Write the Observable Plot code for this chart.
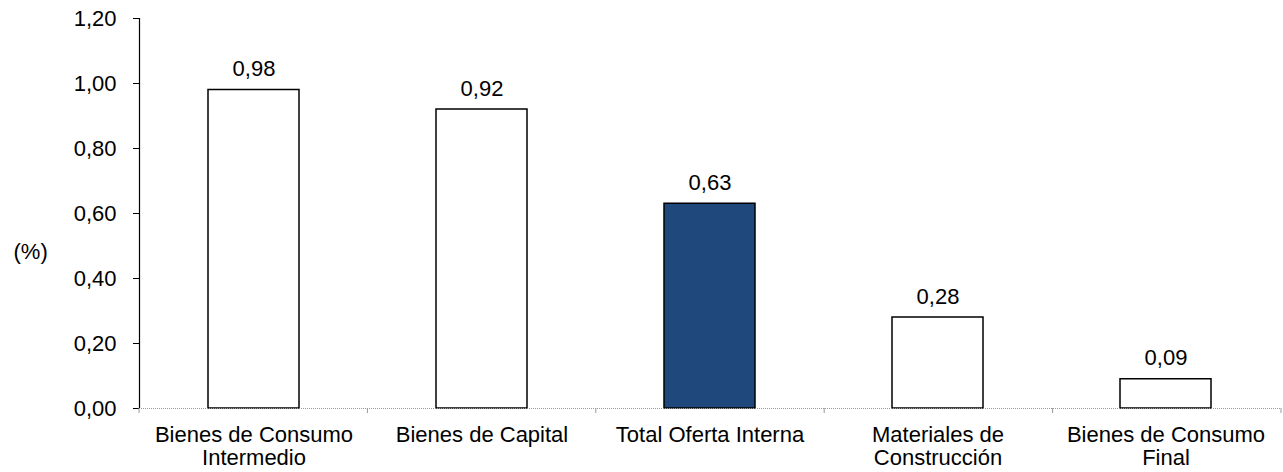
<!DOCTYPE html>
<html>
<head>
<meta charset="utf-8">
<script src="https://cdn.jsdelivr.net/npm/d3@7"></script>
<script src="https://cdn.jsdelivr.net/npm/@observablehq/plot@0.6"></script>
<style>
  html, body { margin: 0; padding: 0; background: #fff; }
  #chart svg { display: block; }
</style>
</head>
<body>
<div id="chart"></div>
<script>
const categories = [
  "Bienes de Consumo\nIntermedio",
  "Bienes de Capital",
  "Total Oferta Interna",
  "Materiales de\nConstrucción",
  "Bienes de Consumo\nFinal"
];
const values = [0.98, 0.92, 0.63, 0.28, 0.09];
const highlight = "Total Oferta Interna";
const yTicks = [0, 0.2, 0.4, 0.6, 0.8, 1.0, 1.2];
const yLabel = "(%)";

const data = categories.map((c, i) => ({cat: c, value: values[i]}));
const fmt = v => v.toFixed(2).replace(".", ",");
const FONT = "'Liberation Sans', Arial, Helvetica, sans-serif";
const FS = 22;

const axisDecor = (index, scales, values, dim) => {
  const g = d3.create("svg:g");
  const x0 = dim.marginLeft, x1 = dim.width - dim.marginRight;
  const yb = scales.y(0), yt = scales.y(1.2);
  // y axis line
  g.append("line").attr("x1", x0 + 0.5).attr("x2", x0 + 0.5)
    .attr("y1", yt).attr("y2", yb).attr("stroke", "#000").attr("stroke-width", 1.2);
  // category boundary ticks
  const n = categories.length;
  const step = (x1 - x0) / n;
  for (let i = 0; i <= n; i++) {
    const xx = x0 + i * step;
    g.append("line").attr("x1", xx).attr("x2", xx)
      .attr("y1", yb).attr("y2", yb + 5).attr("stroke", "#999").attr("stroke-width", 1);
  }
  return g.node();
};

const chart = Plot.plot({
  width: 1283,
  height: 472,
  marginLeft: 139,
  marginRight: 2,
  marginTop: 18,
  marginBottom: 64,
  style: {fontFamily: FONT, fontSize: FS + "px", color: "#000", background: "#fff"},
  x: {domain: categories, paddingInner: 0.6, paddingOuter: 0.3, axis: null},
  y: {
    domain: [0, 1.2],
    ticks: yTicks,
    tickFormat: fmt,
    tickSize: 6,
    tickPadding: 17,
    label: null
  },
  marks: [
    Plot.barY(data, {
      x: "cat", y: "value",
      fill: d => d.cat === highlight ? "#1F497D" : "#fff",
      stroke: "#000", strokeWidth: 1.5
    }),
    Plot.ruleY([0], {stroke: "#999", strokeDasharray: "1,1"}),
    Plot.text(data, {
      x: "cat", y: "value", text: d => fmt(d.value),
      lineAnchor: "bottom", dy: -14, fill: "#000", fontSize: FS
    }),
    Plot.text(data, {
      x: "cat", y: () => 0, text: "cat",
      lineAnchor: "top", dy: 17, lineHeight: 1.06, fill: "#000", fontSize: FS
    }),
    Plot.text([yLabel], {
      frameAnchor: "left", text: d => d, dx: -126, dy: 38,
      textAnchor: "start", fill: "#000", fontSize: FS
    }),
    axisDecor
  ]
});
document.getElementById("chart").appendChild(chart);
</script>
</body>
</html>
